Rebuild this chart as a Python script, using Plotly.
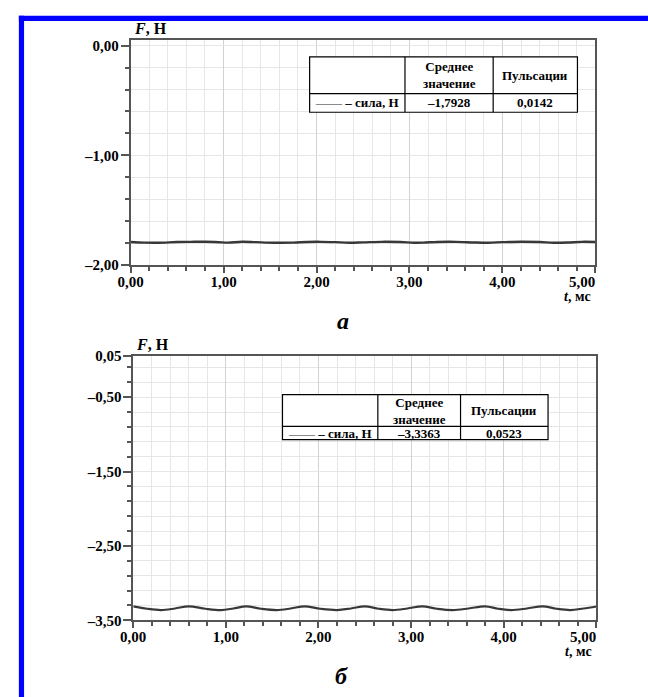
import plotly.graph_objects as go

# ---------------- data ----------------
t1 = [0.00, 0.15, 0.30, 0.50, 0.65, 0.80, 0.95, 1.05, 1.20, 1.35, 1.55, 1.75, 1.90,
      2.05, 2.20, 2.35, 2.50, 2.70, 2.90, 3.05, 3.15, 3.30, 3.50, 3.70, 3.85, 4.00,
      4.20, 4.40, 4.55, 4.70, 4.85, 5.00]
f1 = [-1.790, -1.796, -1.797, -1.791, -1.789, -1.788, -1.793, -1.796, -1.788, -1.792,
      -1.797, -1.796, -1.790, -1.789, -1.792, -1.797, -1.794, -1.789, -1.791, -1.797,
      -1.796, -1.790, -1.789, -1.795, -1.797, -1.792, -1.788, -1.791, -1.797, -1.795,
      -1.789, -1.790]

t2 = [0.00, 0.15, 0.30, 0.45, 0.60, 0.78, 0.95, 1.08, 1.22, 1.38, 1.55, 1.70, 1.85,
      2.02, 2.20, 2.35, 2.50, 2.65, 2.80, 2.96, 3.12, 3.28, 3.45, 3.62, 3.80, 3.94,
      4.08, 4.25, 4.42, 4.57, 4.72, 4.86, 5.00]
f2 = [-3.312, -3.345, -3.362, -3.341, -3.312, -3.345, -3.362, -3.341, -3.312, -3.345,
      -3.362, -3.341, -3.312, -3.345, -3.362, -3.341, -3.312, -3.345, -3.362, -3.341,
      -3.312, -3.345, -3.362, -3.341, -3.312, -3.345, -3.362, -3.341, -3.312, -3.345,
      -3.362, -3.341, -3.314]

x_tickvals = [0, 1, 2, 3, 4, 5]
x_ticktext = ["0,00", "1,00", "2,00", "3,00", "4,00", ""]
x_last_label = "5,00"

y1_tickvals = [0, -1, -2]
y1_ticktext = ["0,00", "–1,00", "–2,00"]
y2_tickvals = [0.05, -0.5, -1.5, -2.5, -3.5]
y2_ticktext = ["0,05", "–0,50", "–1,50", "–2,50", "–3,50"]

table_header = ["Среднее<br>значение", "Пульсации"]
legend_label = "– сила, Н"
mean1, puls1 = "–1,7928", "0,0142"
mean2, puls2 = "–3,3363", "0,0523"
caption1, caption2 = "а", "б"

# ---------------- layout helpers ----------------
W, H = 648, 697
def PX(x): return x / W
def PY(y): return 1 - y / H

SERIF = "Liberation Serif"
AX_COL = "#555555"
GRID_MAJ = "#d2d2d2"
GRID_MIN = "#e6e6e6"
LINE_COL = "#383838"

fig = go.Figure()
fig.add_trace(go.Scatter(x=t1, y=f1, mode="lines", line=dict(color=LINE_COL, width=2.4, shape="spline"),
                         xaxis="x", yaxis="y", showlegend=False))
fig.add_trace(go.Scatter(x=t2, y=f2, mode="lines", line=dict(color=LINE_COL, width=2.2, shape="spline"),
                         xaxis="x2", yaxis="y2", showlegend=False))

tickfont = dict(family=SERIF, size=15, color="black", weight="bold")

def xaxis(domain, anchor):
    return dict(domain=domain, anchor=anchor, range=[0, 5], tickmode="array",
                tickvals=x_tickvals, ticktext=x_ticktext, ticks="outside", ticklen=6,
                tickcolor=AX_COL, tickwidth=1.5, showline=True, linecolor=AX_COL, linewidth=1.5,
                mirror=True, showgrid=True, gridcolor=GRID_MAJ, gridwidth=1, zeroline=False,
                tickfont=tickfont, ticklabelstandoff=-4,
                minor=dict(dtick=0.2, tick0=0, ticks="outside", ticklen=4, tickcolor=AX_COL,
                           showgrid=True, gridcolor=GRID_MIN, gridwidth=1))

def yaxis(domain, anchor, rng, tv, tt, tick0):
    return dict(domain=domain, anchor=anchor, range=rng, tickmode="array",
                tickvals=tv, ticktext=tt, ticks="outside", ticklen=8,
                tickcolor=AX_COL, tickwidth=1.5, showline=True, linecolor=AX_COL, linewidth=1.5,
                mirror=True, showgrid=True, gridcolor=GRID_MIN, gridwidth=1, zeroline=False,
                tickfont=tickfont, ticklabelstandoff=-1,
                minor=dict(dtick=0.2, tick0=tick0, ticks="outside", ticklen=4, tickcolor=AX_COL,
                           showgrid=True, gridcolor=GRID_MIN, gridwidth=1))

fig.update_layout(
    width=W, height=H, margin=dict(l=0, r=0, t=0, b=0),
    paper_bgcolor="white", plot_bgcolor="white", showlegend=False,
    xaxis=xaxis([PX(120), PX(594.3)], "y"),
    yaxis=yaxis([PY(263), PY(33)], "x", [-2, 0.05], y1_tickvals, y1_ticktext, 0),
    xaxis2=xaxis([PX(122.7), PX(595.3)], "y2"),
    yaxis2=yaxis([PY(626.7), PY(356.4)], "x2", [-3.5, 0.05], y2_tickvals, y2_ticktext, -0.1),
)

shapes = []
ann = []

# blue frame
BLUE = "#0000ff"
shapes.append(dict(type="rect", xref="paper", yref="paper", x0=PX(6), x1=PX(660), y0=PY(13.3), y1=PY(8),
                   fillcolor=BLUE, line=dict(width=0), layer="above"))
shapes.append(dict(type="rect", xref="paper", yref="paper", x0=PX(6), x1=PX(11.3), y0=PY(710), y1=PY(8),
                   fillcolor=BLUE, line=dict(width=0), layer="above"))

# tables
def table(x0, x1, y0, ymid, y1, c1, c2, mean, puls):
    lw = dict(color="black", width=1.2)
    shapes.append(dict(type="rect", xref="paper", yref="paper", x0=PX(x0), x1=PX(x1), y0=PY(y1), y1=PY(y0),
                       fillcolor="white", line=lw, layer="above"))
    shapes.append(dict(type="line", xref="paper", yref="paper", x0=PX(x0), x1=PX(x1), y0=PY(ymid), y1=PY(ymid),
                       line=lw, layer="above"))
    for cx in (c1, c2):
        shapes.append(dict(type="line", xref="paper", yref="paper", x0=PX(cx), x1=PX(cx), y0=PY(y0), y1=PY(y1),
                           line=lw, layer="above"))
    f = dict(family=SERIF, size=13, color="black", weight="bold")
    hy = (y0 + ymid) / 2
    dy = (ymid + y1) / 2
    ann.append(dict(xref="paper", yref="paper", x=PX((c1 + c2) / 2), y=PY(hy), text=table_header[0],
                    showarrow=False, font=f, xanchor="center", yanchor="middle"))
    ann.append(dict(xref="paper", yref="paper", x=PX((c2 + x1) / 2), y=PY(hy), text=table_header[1],
                    showarrow=False, font=f, xanchor="center", yanchor="middle"))
    ann.append(dict(xref="paper", yref="paper", x=PX(c1 - 4), y=PY(dy),
                    text='<span style="color:#8a8a8a">——</span> ' + legend_label,
                    showarrow=False, font=f, xanchor="right", yanchor="middle"))
    ann.append(dict(xref="paper", yref="paper", x=PX((c1 + c2) / 2), y=PY(dy), text=mean,
                    showarrow=False, font=f, xanchor="center", yanchor="middle"))
    ann.append(dict(xref="paper", yref="paper", x=PX((c2 + x1) / 2), y=PY(dy), text=puls,
                    showarrow=False, font=f, xanchor="center", yanchor="middle"))

table(302.7, 576, 50, 87.7, 106.7, 400, 490, mean1, puls1)
table(275, 546, 395.7, 428.3, 441.7, 372.3, 456.7, mean2, puls2)

# axis titles, last x labels, captions
tf = dict(family=SERIF, size=16, color="black", weight="bold")
lf = dict(family=SERIF, size=15, color="black", weight="bold")
uf = dict(family=SERIF, size=14, color="black", weight="bold")
for xr, top, bot_y in (("x", 33, 263), ("x2", 356.4, 626.7)):
    ann.append(dict(xref=xr + " domain", yref="paper", x=0, y=PY(top - 1), text="<i>F</i>, Н",
                    showarrow=False, font=tf, xanchor="left", yanchor="bottom", xshift=1))
    ann.append(dict(xref=xr, yref="paper", x=5, y=PY(bot_y + 17), text=x_last_label,
                    showarrow=False, font=lf, xanchor="right", yanchor="middle", xshift=2))
    ann.append(dict(xref=xr, yref="paper", x=5, y=PY(bot_y + 32), text="<i>t</i>, мс",
                    showarrow=False, font=uf, xanchor="right", yanchor="middle", xshift=-2))

cf = dict(family=SERIF, size=24, color="black", weight="bold", style="italic")
ann.append(dict(xref="paper", yref="paper", x=PX(337), y=PY(320), text=caption1, showarrow=False,
                font=cf, xanchor="center", yanchor="middle"))
ann.append(dict(xref="paper", yref="paper", x=PX(335), y=PY(684), text=caption2, showarrow=False,
                font=cf, xanchor="center", yanchor="middle"))

fig.update_layout(shapes=shapes, annotations=ann)
fig.write_html("out.html", config={"displayModeBar": False},
               post_script="document.body.style.margin='0';")
